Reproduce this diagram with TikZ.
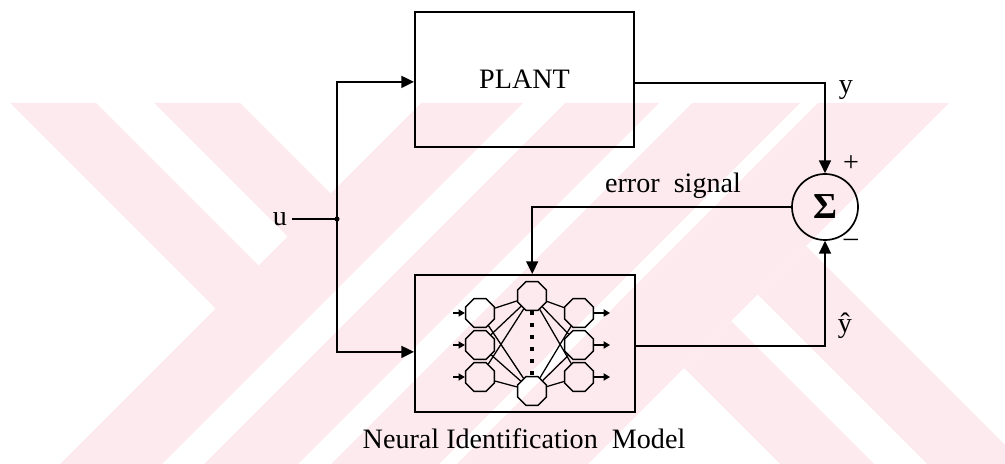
\documentclass[tikz,border=0pt]{standalone}
\usepackage{fontspec}
\setmainfont{Liberation Serif}
\usetikzlibrary{arrows.meta,shapes.geometric}
\definecolor{wmark}{RGB}{252,234,238}
\tikzset{
    blockbox/.style={draw,line width=1.4pt,inner sep=0pt},
    sig/.style={line width=1.2pt},
    tri/.style={-{Triangle[length=9pt,width=8.5pt]}},
    smalltri/.style={-{Triangle[length=4.5pt,width=5pt]}},
    neuron/.style={draw,regular polygon,regular polygon sides=8,inner sep=0pt,minimum size=0.78cm,line width=1pt},
}
\begin{document}
\begin{tikzpicture}[x=0.025cm,y=-0.025cm,font=\fontsize{20}{24}\selectfont]
    \useasboundingbox (0,0) rectangle (1005,464);
    \fill[wmark] (10,103)--(96,103)--(281.5,288.5)--(238.5,331.5)--cycle;
    \fill[wmark] (154,103)--(240,103)--(353.5,216.5)--(310.5,259.5)--cycle;
    \foreach \a/\b in {524/626,668/762,795/903,921/1052}
        \fill[wmark] (\a-103,103)--(\b-103,103)--(\b-464,464)--(\a-464,464)--cycle;
    \fill[wmark] (684,368)--(731,321)--(874,464)--(780,464)--cycle;
    \fill[wmark] (757.5,294.5)--(806,246)--(1005,445)--(1005,464)--(927,464)--cycle;

    \node[blockbox,minimum width=5.475cm,minimum height=3.375cm] (plant) at (524.5,79.5) {PLANT};
    \node[blockbox,minimum width=5.5cm,minimum height=3.425cm] (model) at (525,343.5) {};
    \node (caption) at (524,439) {Neural Identification\ \ Model};
    \node[draw,circle,line width=1.2pt,minimum size=1.65cm,inner sep=0pt] (sum) at (825,207) {\fontsize{26}{28}\selectfont\textbf{Σ}};
    \node (u) at (280,219) {u};
    \coordinate (split) at (337,219);
    \draw[sig] (u) -- (split);
    \fill (split) circle (1.8pt);
    \draw[sig,tri] (split) |- ([yshift=-0.06cm]plant.west);
    \draw[sig,tri] (split) |- ([yshift=-0.21cm]model.west);
    \draw[sig,tri] ([yshift=-0.09cm]plant.east) -| (sum.north);
    \draw[sig,tri] ([yshift=-0.06cm]model.east) -| (sum.south);
    \draw[sig,tri] (sum.west) -| ([xshift=0.18cm]model.north);
    \node at (846,90) {y};
    \node at (845,326) {ŷ};
    \node at (851,164) {+};
    \node at (851,243) {\textendash};
    \node at (673,186) {error\ \ signal};

    \node[neuron] (hid1) at (532,296) {};
    \node[neuron] (hid2) at (532,391) {};
    \foreach \i/\y in {1/313,2/345,3/377} {
        \node[neuron] (in\i) at (480,\y) {};
        \node[neuron] (out\i) at (579,\y) {};
        \coordinate (src\i) at (453,\y);
        \coordinate (dst\i) at (610,\y);
        \draw[line width=1.1pt,smalltri] (src\i) -- (in\i);
        \draw[line width=1.1pt,smalltri] (out\i) -- (dst\i);
        \foreach \h in {1,2} {
            \draw[line width=0.9pt] (in\i) -- (hid\h);
            \draw[line width=0.9pt] (hid\h) -- (out\i);
        }
    }
    \foreach \y in {313,325,...,373}
        \fill (530,\y-2) rectangle (534,\y+2);
\end{tikzpicture}
\end{document}
